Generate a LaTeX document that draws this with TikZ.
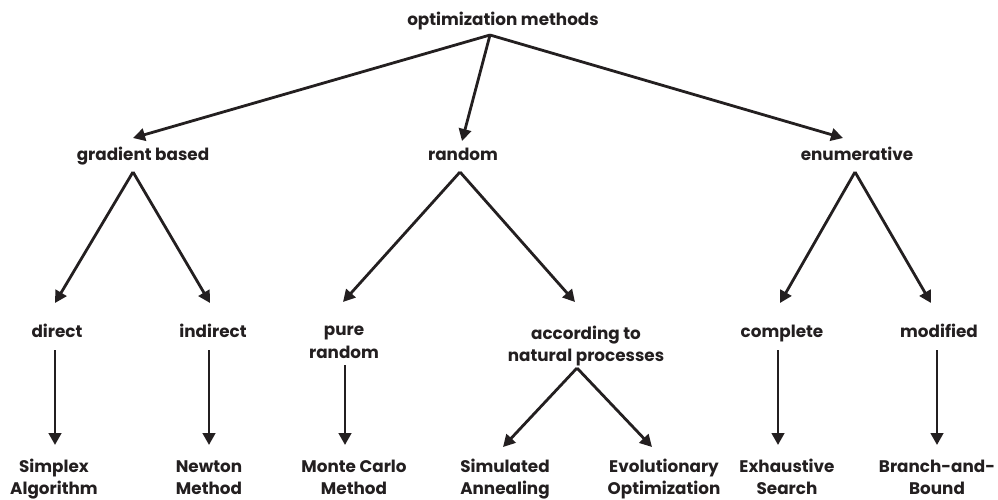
\documentclass[tikz,border=0pt]{standalone}
\usepackage{fontspec}
\setmainfont{Poppins}[UprightFont=* SemiBold, BoldFont=* Bold]
\usetikzlibrary{arrows.meta}
\definecolor{ink}{HTML}{231F20}
\tikzset{
  lbl/.style={inner sep=0pt, align=center, text=ink, font=\fontsize{16.8}{22.5}\selectfont\bfseries},
  arr/.style={draw=ink, line width=2.8pt, -{Triangle[length=12pt,width=12.5pt]}}
}
\begin{document}
\begin{tikzpicture}[x=1pt,y=-1pt]
\useasboundingbox (0,0) rectangle (998,499);
\node[lbl] (top) at (503,21) {\strut optimization methods};
\node[lbl] (gb) at (143,156) {\strut gradient based};
\node[lbl] (rnd) at (463,156) {\strut random};
\node[lbl] (enum) at (857,156) {\strut enumerative};
\node[lbl] (dir) at (57,333) {\strut direct};
\node[lbl] (ind) at (213,333) {\strut indirect};
\node[lbl] (pr) at (344,342.5) {\strut pure\\\strut random};
\node[lbl] (nat) at (586,346) {\strut according to\\\strut natural processes};
\node[lbl] (comp) at (782,333) {\strut complete};
\node[lbl] (mod) at (939,333) {\strut modified};
\node[lbl] (simp) at (54,479) {\strut Simplex\\\strut Algorithm};
\node[lbl] (newt) at (209,479) {\strut Newton\\\strut Method};
\node[lbl] (mc) at (354,479) {\strut Monte Carlo\\\strut Method};
\node[lbl] (sa) at (505,479) {\strut Simulated\\\strut Annealing};
\node[lbl] (evo) at (664,479) {\strut Evolutionary\\\strut Optimization};
\node[lbl] (exh) at (787,479) {\strut Exhaustive\\\strut Search};
\node[lbl] (bb) at (937,479) {\strut Branch-and-\\\strut Bound};
% level 1 -> 2
\draw[arr] ([shift={(-13,14)}]top.center) -- ([shift={(-10,-18)}]gb.center);
\draw[arr] ([shift={(-13,14)}]top.center) -- ([shift={(-1,-15)}]rnd.center);
\draw[arr] ([shift={(-13,14)}]top.center) -- ([shift={(-14,-18)}]enum.center);
% level 2 -> 3
\draw[arr] ([shift={(-10,16)}]gb.center) -- ([shift={(-2,-30)}]dir.center);
\draw[arr] ([shift={(-10,16)}]gb.center) -- ([shift={(-3,-30)}]ind.center);
\draw[arr] ([shift={(-3,16)}]rnd.center) -- ([shift={(-1,-40.5)}]pr.center);
\draw[arr] ([shift={(-3,16)}]rnd.center) -- ([shift={(-11,-44)}]nat.center);
\draw[arr] ([shift={(-2,16)}]enum.center) -- ([shift={(-2,-30)}]comp.center);
\draw[arr] ([shift={(-2,16)}]enum.center) -- ([shift={(-8,-30)}]mod.center);
% level 3 -> 4
\draw[arr] ([shift={(-2,17)}]dir.center) -- ([shift={(1,-34)}]simp.center);
\draw[arr] ([shift={(-4,17)}]ind.center) -- ([shift={(0,-34)}]newt.center);
\draw[arr] ([shift={(1,22.5)}]pr.center) -- ([shift={(-9,-34)}]mc.center);
\draw[arr] ([shift={(-9,22)}]nat.center) -- ([shift={(-2,-32)}]sa.center);
\draw[arr] ([shift={(-9,22)}]nat.center) -- ([shift={(-12,-32)}]evo.center);
\draw[arr] ([shift={(-4,17)}]comp.center) -- ([shift={(-9,-34)}]exh.center);
\draw[arr] ([shift={(-2,17)}]mod.center) -- ([shift={(0,-34)}]bb.center);
\end{tikzpicture}
\end{document}
